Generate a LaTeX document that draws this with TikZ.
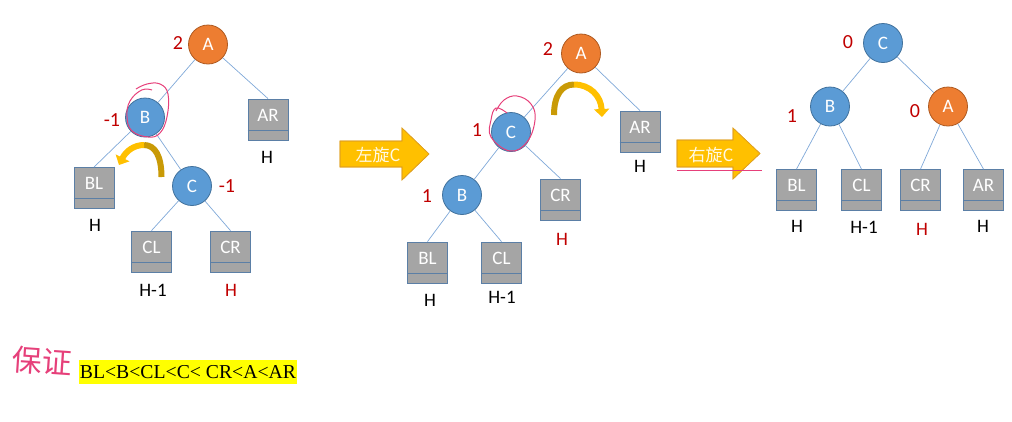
\documentclass[tikz,border=0pt]{standalone}
\usepackage{fontspec}
\setmainfont{Carlito}
\newfontfamily\cjkfont{Noto Sans CJK SC}
\newfontfamily\seriffont{Liberation Serif}
\usetikzlibrary{arrows.meta}
\definecolor{cblue}{HTML}{5B9BD5}
\definecolor{cblueD}{HTML}{41719C}
\definecolor{corange}{HTML}{ED7D31}
\definecolor{corangeD}{HTML}{AE5A21}
\definecolor{cgray}{HTML}{A5A5A5}
\definecolor{cgrayD}{HTML}{5B7FA6}
\definecolor{cedge}{HTML}{7FA8D8}
\definecolor{cred}{HTML}{C00000}
\definecolor{cyel}{HTML}{FFC000}
\definecolor{cyelD}{HTML}{C99A06}
\definecolor{cyelB}{HTML}{E0A020}
\definecolor{cpink}{HTML}{E6407A}
\definecolor{chl}{HTML}{FFFF00}
\newcommand\fsz[1]{\fontsize{#1}{#1}\selectfont}
\newcommand\divline[1]{\draw[cgrayD, line width=0.8pt] ([yshift=10.5pt]#1.south west) -- ([yshift=10.5pt]#1.south east);}
\tikzset{
  circ/.style={circle, minimum size=39pt, inner sep=0pt, text=white, font=\fsz{19}, line width=0.8pt},
  bluec/.style={circ, fill=cblue, draw=cblueD},
  orangec/.style={circ, fill=corange, draw=corangeD},
  leaf/.style={rectangle, minimum width=40pt, inner xsep=0pt, inner ysep=0pt, text height=22pt, text depth=19pt, fill=cgray, draw=cgrayD, line width=0.8pt, text=white, font=\fsz{19}},
  edge/.style={draw=cedge, line width=0.7pt},
  num/.style={text=cred, font=\fsz{20}, inner sep=0pt},
  hlab/.style={text=black, font=\fsz{19}, inner sep=0pt},
  hred/.style={hlab, text=cred},
  blockarrow/.style={fill=cyel, draw=cyelB, line width=0.6pt},
  arrowtext/.style={text=white!90!cyel, font=\cjkfont\fsz{17}, inner sep=0pt},
  curvdark/.style={draw=cyelD, line width=6pt},
  curvlight/.style={draw=cyel, line width=6pt, -{Triangle[length=8pt,width=15pt]}},
  pinkline/.style={draw=cpink, line width=1pt}
}
\begin{document}
\begin{tikzpicture}[x=1pt,y=-1pt]
\useasboundingbox (0,0) rectangle (1012,421);
% ---------- tree 1 ----------
\node[orangec] (A1) at (208,44.5) {A};
\node[bluec] (B1) at (145,117.5) {B};
\node[bluec] (C1) at (192,186) {C};
\node[leaf] (AR1) at (268,119.5) {AR};
\node[leaf] (BL1) at (94,188) {BL};
\node[leaf] (CL1) at (151.5,251.5) {CL};
\node[leaf] (CR1) at (230.5,251.5) {CR};
\foreach \n in {AR1,BL1,CL1,CR1} {\divline{\n}}
\draw[edge] (A1) -- (B1);
\draw[edge] (A1) -- (AR1.north);
\draw[edge] (B1) -- (BL1.north);
\draw[edge] (B1) -- (C1);
\draw[edge] (C1) -- (CL1.north);
\draw[edge] (C1) -- (CR1.north);
\node[num] (n1a) at (178,43) {2};
\node[num] (n1b) at (112,120) {-1};
\node[num] (n1c) at (227,186) {-1};
\node[hlab] (h1a) at (267,157) {H};
\node[hlab] (h1b) at (95,225) {H};
\node[hlab] (h1c) at (153,290) {H-1};
\node[hred] (h1d) at (231,290) {H};
\draw[curvdark] (161.5,177) .. controls (161.5,156) and (155,145) .. (144,145);
\draw[curvlight] (144,145) .. controls (134,145) and (126,151) .. (119,165);
\draw[pinkline] plot[smooth, tension=0.7] coordinates {(136,89) (147,84) (160,84) (168,94) (167,116.7) (160,133) (148.3,137) (132,131) (127,116.7) (130,101) (141.7,90) (152,90)};
% ---------- arrow 1 ----------
\fill[blockarrow] (340,141) -- (402,141) -- (402,128) -- (429,154) -- (402,180) -- (402,167) -- (340,167) -- cycle;
\draw[blockarrow, fill=none] (340,141) -- (402,141) -- (402,128) -- (429,154) -- (402,180) -- (402,167) -- (340,167) -- cycle;
\node[arrowtext] (t1) at (378,155) {左旋C};
% ---------- tree 2 ----------
\node[orangec] (A2) at (581,53.5) {A};
\node[bluec] (C2) at (511,132) {C};
\node[bluec] (B2) at (462,195) {B};
\node[leaf] (AR2) at (640,131.5) {AR};
\node[leaf] (CR2) at (560.5,199.5) {CR};
\node[leaf] (BL2) at (427.5,262.5) {BL};
\node[leaf] (CL2) at (501.5,262.5) {CL};
\foreach \n in {AR2,CR2,BL2,CL2} {\divline{\n}}
\draw[edge] (A2) -- (C2);
\draw[edge] (A2) -- (AR2.north);
\draw[edge] (C2) -- (B2);
\draw[edge] (C2) -- (CR2.north);
\draw[edge] (B2) -- (BL2.north);
\draw[edge] (B2) -- (CL2.north);
\node[num] (n2a) at (548,49) {2};
\node[num] (n2b) at (477,130) {1};
\node[num] (n2c) at (427,196) {1};
\node[hlab] (h2a) at (640,166) {H};
\node[hred] (h2b) at (562,239) {H};
\node[hlab] (h2c) at (430,300) {H};
\node[hlab] (h2d) at (502,297) {H-1};
\draw[curvdark] (554,115) .. controls (554,95) and (562,84.5) .. (574,84.5);
\draw[curvlight] (574,84.5) .. controls (590,84.5) and (601,96) .. (602,117);
\draw[pinkline] plot[smooth, tension=0.7] coordinates {(496,111) (504,100) (517,96) (531,104) (535,120) (527,142) (510,151) (491,137) (491,120) (496,108) (507,113)};
% ---------- arrow 2 ----------
\fill[blockarrow] (677,140) -- (733,140) -- (733,128) -- (760,153.5) -- (733,179) -- (733,167) -- (677,167) -- cycle;
\draw[blockarrow, fill=none] (677,140) -- (733,140) -- (733,128) -- (760,153.5) -- (733,179) -- (733,167) -- (677,167) -- cycle;
\node[arrowtext] (t2) at (711,155) {右旋C};
\coordinate (u1) at (677,170);
\coordinate (u2) at (762,170);
\draw[pinkline] (u1) -- (u2);
% ---------- tree 3 ----------
\node[bluec] (C3) at (883,43) {C};
\node[bluec] (B3) at (830,106.5) {B};
\node[orangec] (A3) at (948,106.5) {A};
\node[leaf] (BL3) at (796.5,190) {BL};
\node[leaf] (CL3) at (861.5,190) {CL};
\node[leaf] (CR3) at (920.5,190) {CR};
\node[leaf] (AR3) at (983.5,190) {AR};
\foreach \n in {BL3,CL3,CR3,AR3} {\divline{\n}}
\draw[edge] (C3) -- (B3);
\draw[edge] (C3) -- (A3);
\draw[edge] (B3) -- (BL3.north);
\draw[edge] (B3) -- (CL3.north);
\draw[edge] (A3) -- (CR3.north);
\draw[edge] (A3) -- (AR3.north);
\node[num] (n3a) at (848,42) {0};
\node[num] (n3b) at (792,116) {1};
\node[num] (n3c) at (915,111) {0};
\node[hlab] (h3a) at (797,226) {H};
\node[hlab] (h3b) at (864,227) {H-1};
\node[hred] (h3c) at (922,229) {H};
\node[hlab] (h3d) at (983,226) {H};
% ---------- bottom ----------
\node[text=cpink, font=\cjkfont\fsz{30}, inner sep=0pt, rotate=-4] (bz) at (42,361) {保证};
\node[fill=chl, inner sep=0pt, minimum width=218pt, minimum height=24pt, font=\seriffont\fsz{19.7}] (ord) at (188,372) {BL<B<CL<C< CR<A<AR};
\end{tikzpicture}
\end{document}
